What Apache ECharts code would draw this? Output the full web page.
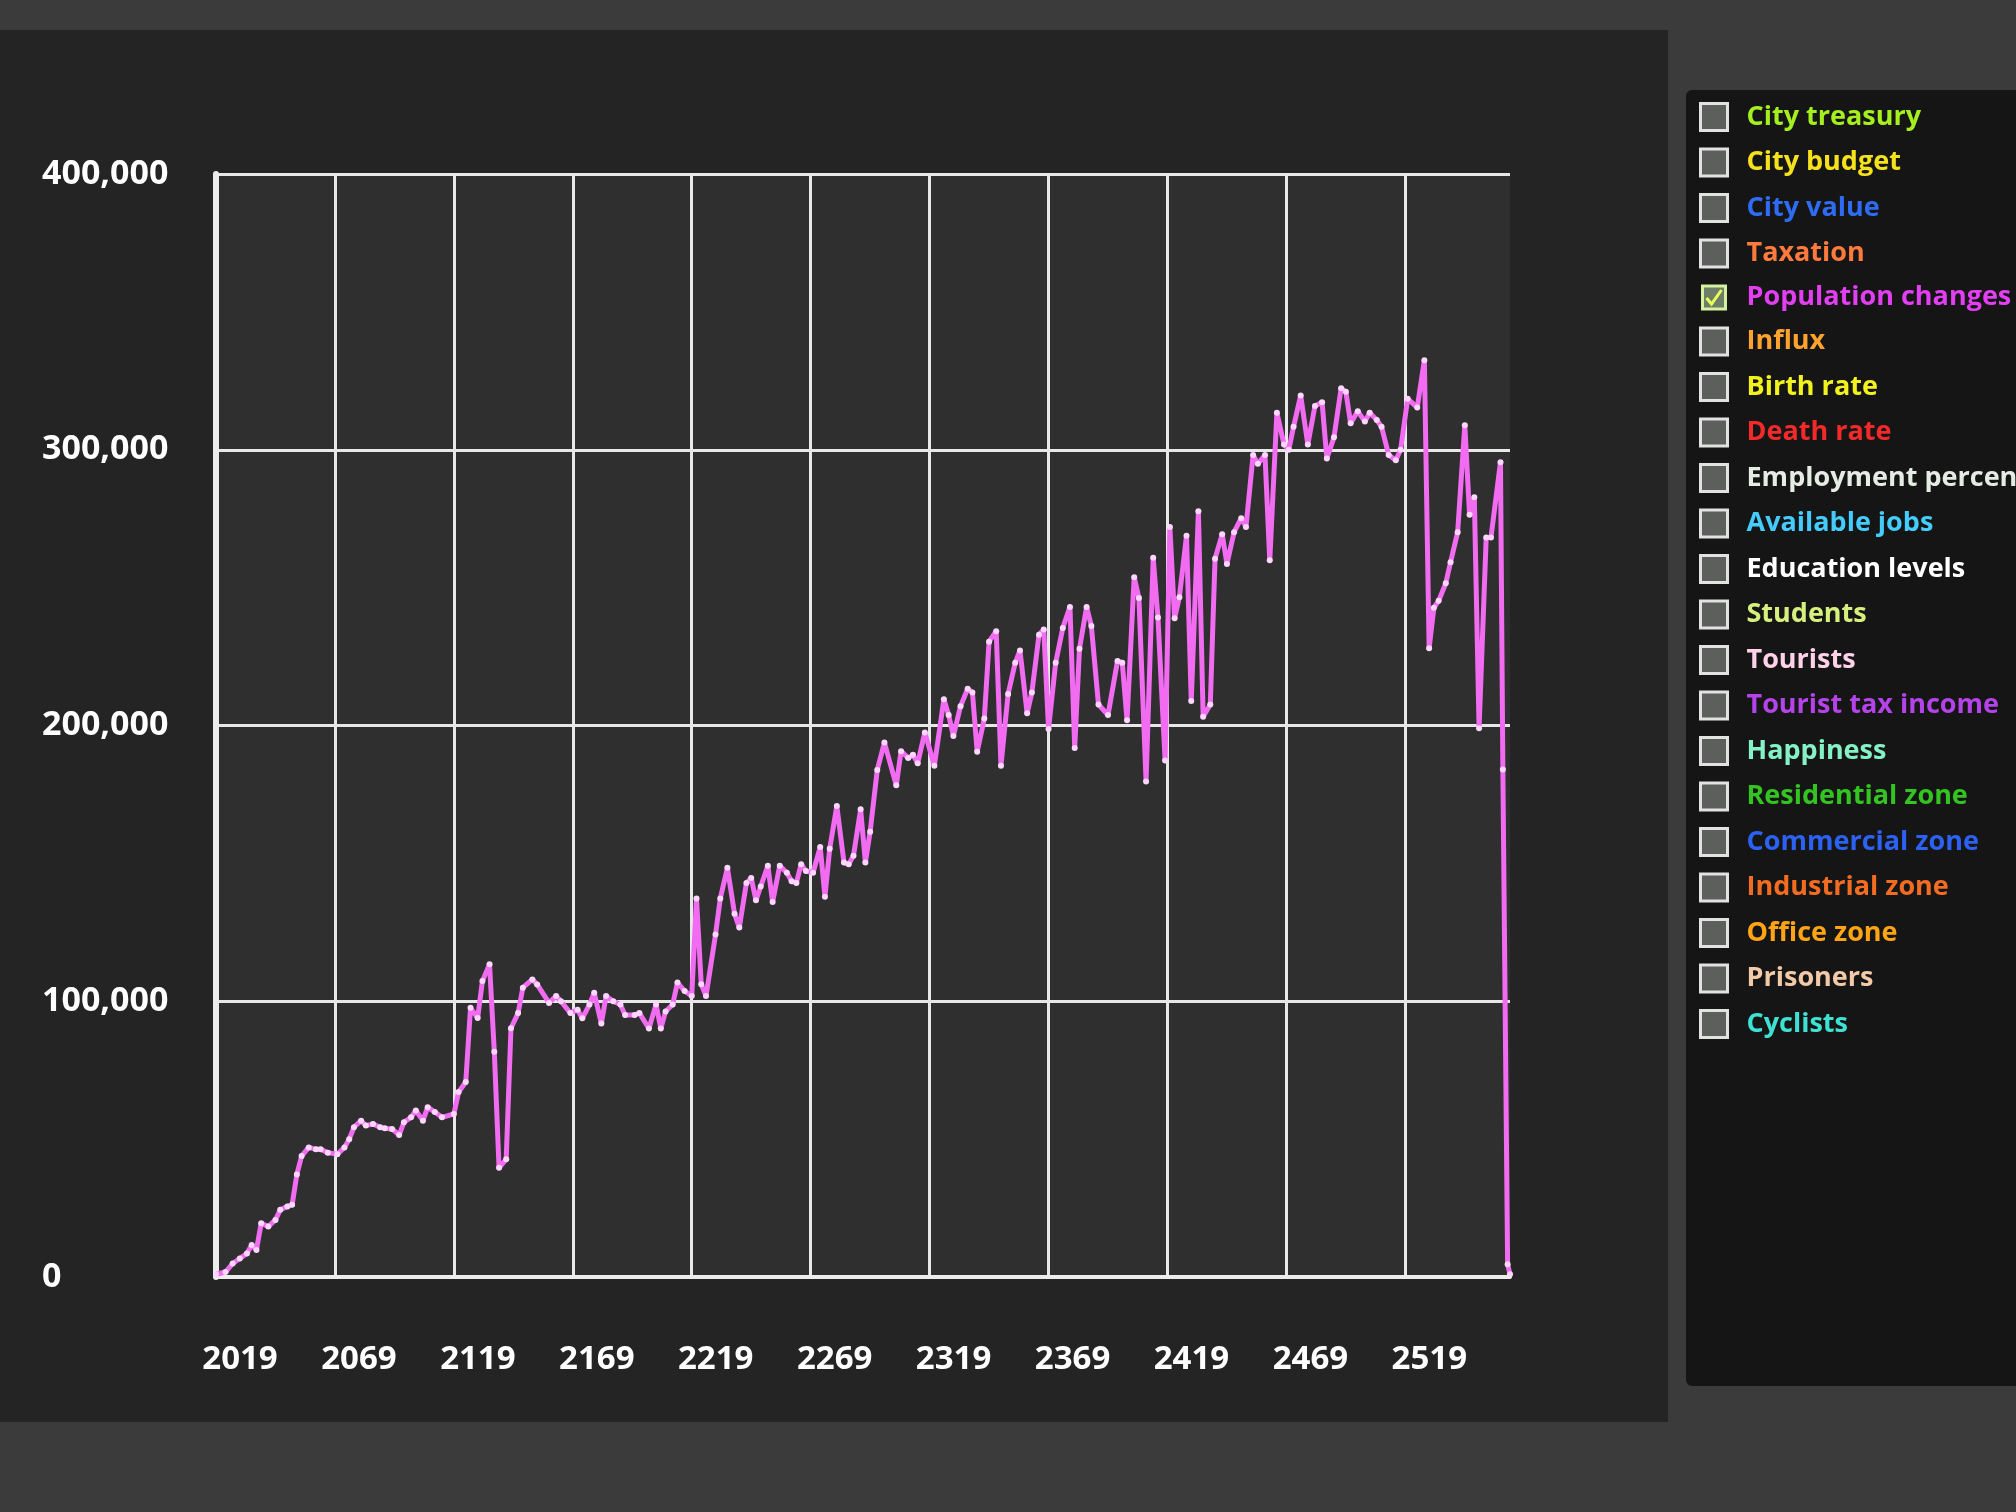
<!DOCTYPE html>
<html>
<head>
<meta charset="utf-8">
<title>Population changes</title>
<script src="https://cdn.jsdelivr.net/npm/echarts@6/dist/echarts.min.js"></script>
<style>
    html, body { margin: 0; padding: 0; background: #3b3b3b; }
    #chart { width: 2016px; height: 1512px; }
</style>
</head>
<body>
<div id="chart"></div>
<script>
// years with a sample
var years = [
    2019, 2023, 2026, 2029, 2032, 2034, 2036, 2038, 2041, 2044, 2046, 2049, 2051, 2053, 2055, 2058,
    2061, 2063, 2066, 2070, 2073, 2075, 2077, 2080, 2082, 2085, 2088, 2090, 2093, 2096, 2098,
    2101, 2103, 2106, 2108, 2111, 2114, 2119, 2121, 2124, 2126, 2129, 2131, 2134, 2136, 2138,
    2141, 2143, 2146, 2148, 2152, 2154, 2159, 2162, 2164, 2168, 2171, 2173, 2176, 2178,
    2181, 2183, 2186, 2189, 2191, 2195, 2197, 2201, 2204, 2206, 2208, 2211, 2213, 2216, 2219,
    2221, 2223, 2225, 2229, 2231, 2234, 2237, 2239, 2242, 2244, 2246, 2248, 2251, 2253, 2256, 2259,
    2261, 2263, 2265, 2267, 2270, 2273, 2275, 2277, 2280, 2283, 2285, 2287, 2290, 2292, 2294, 2297,
    2300, 2305, 2307, 2310, 2312, 2314, 2317, 2321, 2325, 2327, 2329, 2332, 2335, 2337, 2339,
    2342, 2344, 2347, 2349, 2352, 2355, 2357, 2360, 2362, 2365, 2367, 2369, 2372, 2375, 2378,
    2380, 2382, 2385, 2387, 2390, 2394, 2398, 2400, 2402, 2405, 2407, 2410, 2413, 2415, 2418,
    2420, 2422, 2424, 2427, 2429, 2432, 2434, 2437, 2439, 2442, 2444, 2447, 2450, 2452, 2455, 2457,
    2460, 2462, 2465, 2468, 2470, 2472, 2475, 2478, 2481, 2484, 2486, 2489, 2492, 2494, 2496, 2499,
    2502, 2504, 2507, 2509, 2512, 2515, 2517, 2520, 2524, 2527, 2529, 2531, 2533, 2536, 2538,
    2541, 2544, 2546, 2548, 2550, 2553, 2555, 2559, 2560, 2562, 2563
];
var population = [
    1000, 1800, 4900, 6700, 8500, 11600, 9800, 19500, 18300, 20700, 24400, 25600, 26200, 37200, 43900, 47000,
    46300, 46300, 45100, 44500, 47000, 50000, 54300, 56700, 54900, 55500, 54300, 53900, 53700, 51500, 56100,
    57900, 60400, 56700, 61600, 59800, 57900, 59100, 67100, 70700, 97600, 93900, 107300, 113400, 81700, 39600,
    42700, 90200, 95700, 104900, 107900, 106100, 99400, 101900, 100000, 95700, 96900, 93800, 98800, 103100,
    91900, 101900, 100000, 98800, 95000, 95000, 95700, 90100, 98800, 90100, 96300, 98800, 106800, 103700, 101900,
    137300, 106200, 101900, 124200, 137300, 148400, 131700, 126700, 142900, 144700, 136600, 141600, 149100, 136000, 149100, 146600,
    143500, 142900, 149700, 147200, 146600, 155900, 137900, 155300, 170800, 150300, 149700, 152800, 169600, 150300, 161500, 183900,
    193800, 178300, 190700, 188200, 189400, 186300, 197500, 185400, 209500, 203800, 196200, 207000, 213300, 212000, 190500,
    202500, 230400, 234200, 185400, 211400, 222800, 227200, 204400, 212000, 232900, 234800, 198700, 222800, 235400, 243000,
    191800, 227800, 243000, 236100, 207600, 203800, 223400, 222800, 201900, 253800, 246200, 179700, 260800, 239200, 187300,
    272000, 238900, 246500, 268800, 208900, 277700, 203200, 207600, 260500, 269400, 258600, 270100, 275200, 272000, 298100, 294900,
    298100, 259900, 313400, 301900, 300000, 308300, 319700, 301900, 315900, 317200, 296800, 304500, 322300, 321000, 309600, 314000,
    310200, 313400, 310800, 308300, 298100, 296200, 300000, 318500, 315300, 332500, 228000, 242700, 245200, 251600, 259200,
    270100, 308900, 276400, 282800, 199000, 268200, 268200, 295500, 184000, 4600, 1000
];

var firstYear = 2019;
var lastYear = 2563;
var yMax = 400000;
var yStep = 100000;

// legend entries of the game panel, only population is ticked
var graphNames = [
    'City treasury', 'City budget', 'City value', 'Taxation', 'Population changes', 'Influx',
    'Birth rate', 'Death rate', 'Employment percentage', 'Available jobs', 'Education levels',
    'Students', 'Tourists', 'Tourist tax income', 'Happiness', 'Residential zone',
    'Commercial zone', 'Industrial zone', 'Office zone', 'Prisoners', 'Cyclists'
];
var graphColors = [
    '#a6ef1e', '#f6e21c', '#2f6cf6', '#ff7a3c', '#e23ef2', '#ffa22e',
    '#f2f21e', '#f42a2a', '#e4ece4', '#44ccff', '#ffffff',
    '#d6f07e', '#ffd2ea', '#b444ea', '#84f2c6', '#34c422',
    '#2c62f4', '#f26c22', '#ffa414', '#f2caa8', '#3ee2d2'
];
var checkedName = 'Population changes';

var categories = [];
for (var y = firstYear; y <= lastYear; y++) categories.push(String(y));

var checkSvg = "<svg xmlns='http://www.w3.org/2000/svg' width='27' height='27'>" +
    "<rect x='2' y='2' width='23' height='23' fill='#6d7e66' stroke='#d4f0a0' stroke-width='3'/>" +
    "<path d='M6 14 L11 20 L21 6' fill='none' stroke='#eaff5a' stroke-width='3'/></svg>";
var checkIcon = 'image://data:image/svg+xml;charset=utf-8,' + encodeURIComponent(checkSvg);

var legendData = graphNames.map(function (name, i) {
    var item = {
        name: name,
        textStyle: { color: graphColors[i] }
    };
    if (name === checkedName) {
        item.icon = checkIcon;
    } else {
        item.icon = 'rect';
        item.itemStyle = { color: '#5c5f5c', borderColor: '#e2e2e2', borderWidth: 3 };
    }
    // the panel runs off the screen, cut this one at the edge
    if (name === 'Employment percentage') {
        item.textStyle.width = 272;
        item.textStyle.overflow = 'truncate';
        item.textStyle.ellipsis = '';
    }
    return item;
});

var series = graphNames.map(function (name) {
    if (name !== checkedName) {
        return { name: name, type: 'line', data: [] };
    }
    return {
        name: name,
        type: 'line',
        data: years.map(function (yr, i) { return [String(yr), population[i]]; }),
        showAllSymbol: true,
        symbol: 'circle',
        symbolSize: 6,
        lineStyle: { color: '#f26cf2', width: 5 },
        itemStyle: { color: '#ffd6ff' },
        z: 5
    };
});

var chart = echarts.init(document.getElementById('chart'), null, { renderer: 'canvas' });
chart.setOption({
    backgroundColor: '#3b3b3b',
    animation: false,
    textStyle: { fontFamily: 'Open Sans' },
    graphic: [
        { type: 'rect', z: -10, shape: { x: 0, y: 30, width: 1668, height: 1392 }, style: { fill: '#242424' } },
        { type: 'rect', z: -10, shape: { x: 1686, y: 90, width: 340, height: 1296, r: 6 }, style: { fill: '#151515' } }
    ],
    legend: {
        orient: 'vertical',
        left: 1694,
        top: 97,
        itemWidth: 27,
        itemHeight: 27,
        itemGap: 15.5,
        selectedMode: false,
        data: legendData,
        textStyle: {
            fontFamily: 'Open Sans',
            fontSize: 27,
            fontWeight: 'bold',
            lineHeight: 27,
            padding: [0, 0, 0, 14]
        }
    },
    grid: {
        left: 216,
        right: 506,
        top: 174,
        bottom: 235,
        show: true,
        backgroundColor: '#2f2f2f',
        borderWidth: 0
    },
    xAxis: {
        type: 'category',
        data: categories,
        boundaryGap: false,
        axisLine: { show: true, lineStyle: { color: '#ececec', width: 4 } },
        axisTick: { show: false },
        axisLabel: {
            interval: 49,
            margin: 66,
            padding: [0, 0, 0, 48],
            color: '#ffffff',
            fontFamily: 'Open Sans',
            fontWeight: 'bold',
            fontSize: 33
        },
        splitLine: { show: true, interval: 49, lineStyle: { color: '#e8e8e8', width: 3 } }
    },
    yAxis: {
        type: 'value',
        min: 0,
        max: yMax,
        interval: yStep,
        axisLine: { show: true, lineStyle: { color: '#ececec', width: 6 } },
        axisTick: { show: false },
        axisLabel: {
            align: 'left',
            margin: 174,
            color: '#ffffff',
            fontFamily: 'Open Sans',
            fontWeight: 'bold',
            fontSize: 34,
            formatter: function (v) { return v.toLocaleString('en-US'); }
        },
        splitLine: { show: true, lineStyle: { color: '#e8e8e8', width: 3 } }
    },
    series: series
});
</script>
</body>
</html>
